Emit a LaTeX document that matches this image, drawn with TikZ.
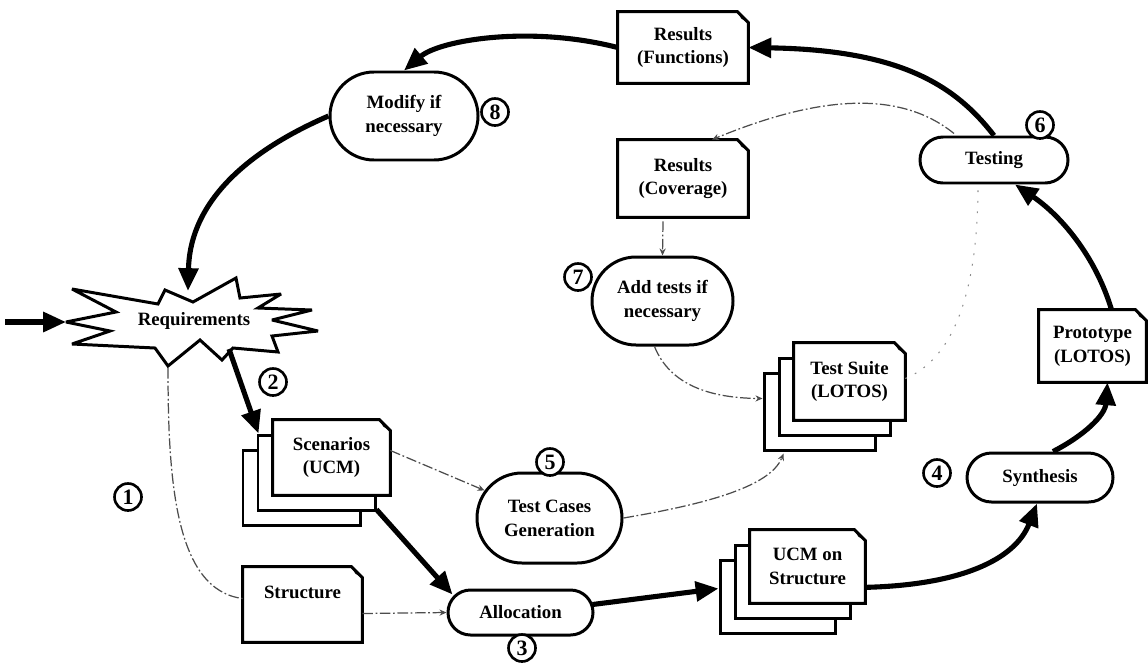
\documentclass[tikz,border=0pt]{standalone}
\usepackage{fontspec}
\setmainfont{Liberation Serif}
\usetikzlibrary{arrows.meta,shapes.misc,calc}

% one drawing unit = 0.02cm
\newcommand\pu[1]{#1*0.02cm}

\tikzset{
  every node/.style={font=\fontsize{10.7}{13.5}\selectfont\bfseries, align=center, inner sep=0pt},
  stage/.style={rounded rectangle, draw, line width=1.7pt, fill=white},
  docbody/.style={rectangle, fill=white},
  layer/.style={rectangle, draw, line width=1.7pt, fill=white},
  docline/.style={line width=1.7pt, line join=miter},
  num/.style={circle, draw, line width=1.5pt, minimum size=\pu{27}, fill=white,
              font=\fontsize{12.5}{13}\selectfont\bfseries},
  flow/.style={line width=2.9pt, -{Triangle[length=13pt,width=11pt]}},
  aux/.style={line width=0.7pt, draw=black!70, dash pattern=on 6pt off 1.5pt on 1pt off 1.5pt,
              -{Stealth[length=4pt,width=3.5pt]}},
  faint/.style={line width=0.6pt, draw=black!45, dash pattern=on 1pt off 5pt},
}

% outline of a document sheet with a folded top-right corner
\newcommand\docfront[1]{%
  \draw[docline] (#1.south west) -- (#1.north west) -- ($(#1.north east)+(-11,0)$)
    -- ($(#1.north east)+(0,11)$) -- (#1.south east) -- cycle;
  \fill ($(#1.north east)+(-11,0)$) -- ($(#1.north east)+(0,11)$)
    -- ($(#1.north east)+(-7,7)$) -- cycle;}

\begin{document}
\begin{tikzpicture}[x=0.02cm, y=-0.02cm]
\useasboundingbox (0,0) rectangle (1148,663);

% ---- requirements burst ----
\draw[line width=1.7pt, fill=white, line join=miter, miter limit=4]
  (72,289) -- (158,304) -- (165,290) -- (193,302) -- (236,278) -- (240,298)
  -- (281,294) -- (258,308) -- (312,310) -- (272,320) -- (318,331) -- (272,336)
  -- (278,352) -- (233,348) -- (222,360) -- (200,340) -- (168,366) -- (155,348)
  -- (72,344) -- (110,331) -- (66,322) -- (116,312) -- cycle;
\node (req) at (194,321) {Requirements};
\coordinate (req-top) at (188,291);
\coordinate (req-bot) at (229,349);
\coordinate (req-low) at (168,368);
\coordinate (req-in) at (66,322);
\coordinate (inp) at (5,322);

% ---- activities ----
\node[stage, minimum width=\pu{148}, minimum height=\pu{88}] (mod) at (404,116) {Modify if\\necessary};
\node[stage, minimum width=\pu{148}, minimum height=\pu{46}] (test) at (994,160) {Testing};
\node[stage, minimum width=\pu{146}, minimum height=\pu{49}] (syn) at (1040,477.5) {Synthesis};
\node[stage, minimum width=\pu{145}, minimum height=\pu{45}] (alloc) at (520.5,612.5) {Allocation};
\node[stage, minimum width=\pu{141}, minimum height=\pu{88}] (add) at (662.5,301) {Add tests if\\necessary};
\node[stage, minimum width=\pu{145}, minimum height=\pu{90}] (tcg) at (549.5,518) {Test Cases\\Generation};

% ---- documents ----
\node[docbody, minimum width=\pu{130}, minimum height=\pu{71}] (resf) at (683,47.5) {Results\\(Functions)};
\docfront{resf}
\node[docbody, minimum width=\pu{130}, minimum height=\pu{77}] (resc) at (683,178.5) {Results\\(Coverage)};
\docfront{resc}
\node[docbody, minimum width=\pu{107}, minimum height=\pu{72}] (proto) at (1092.5,346) {Prototype\\(LOTOS)};
\docfront{proto}
\node[docbody, minimum width=\pu{119}, minimum height=\pu{75}] (str) at (302.5,604.5) {Structure\\\mbox{}};
\docfront{str}

% scenario stack
\node[layer, minimum width=\pu{117}, minimum height=\pu{75}] (scen3) at (301.5,487.5) {};
\node[layer, minimum width=\pu{117}, minimum height=\pu{75}] (scen2) at (316.5,472.5) {};
\node[docbody, minimum width=\pu{117}, minimum height=\pu{75}] (scen) at (331.5,457.5) {Scenarios\\(UCM)};
\docfront{scen}

% UCM on structure stack
\node[layer, minimum width=\pu{115}, minimum height=\pu{73}] (ucm3) at (777.5,596.5) {};
\node[layer, minimum width=\pu{115}, minimum height=\pu{73}] (ucm2) at (792.5,581.5) {};
\node[docbody, minimum width=\pu{115}, minimum height=\pu{73}] (ucm) at (807.5,566.5) {UCM on\\Structure};
\docfront{ucm}

% test suite stack
\node[layer, minimum width=\pu{111}, minimum height=\pu{77}] (ts3) at (819.5,411.5) {};
\node[layer, minimum width=\pu{111}, minimum height=\pu{77}] (ts2) at (834.5,396.5) {};
\node[docbody, minimum width=\pu{111}, minimum height=\pu{77}] (ts) at (849.5,381.5) {Test Suite\\(LOTOS)};
\docfront{ts}

% ---- step numbers ----
\node[num] (n1) at (128,497) {1};
\node[num] (n2) at (273,382) {2};
\node[num] (n3) at (522,648) {3};
\node[num] (n4) at (937,473) {4};
\node[num] (n5) at (550,462) {5};
\node[num] (n6) at (1040,125) {6};
\node[num] (n7) at (578,277) {7};
\node[num] (n8) at (495,112) {8};

% ---- main cycle ----
\draw[flow] (inp) -- (req-in);
\draw[flow] (req-bot) -- ($(scen2.north west)+(2,0)$);
\draw[flow] ($(scen2.south east)+(0,-2)$) -- ($(alloc.center)+(-68,-18)$);
\draw[flow] ($(alloc.east)+(-2,-8)$) -- ($(ucm3.west)+(0,-8)$);
\draw[flow] ($(ucm.south east)+(0,-16)$) .. controls (960,585) and (1015,560) .. ($(syn.south)+(-3,0)$);
\draw[flow] ($(syn.north)+(13,0)$) .. controls (1085,435) and (1105,415) .. ($(proto.south)+(15,0)$);
\draw[flow] ($(proto.north)+(19,0)$) .. controls (1095,255) and (1060,215) .. ($(test.south)+(21,0)$);
\draw[flow] (test.north) .. controls (955,85) and (900,50) .. (resf.east);
\draw[flow] (resf.west) .. controls (530,25) and (440,40) .. (mod.north);
\draw[flow] (mod.west) .. controls (250,150) and (190,200) .. (req-top);

% ---- secondary flows ----
\draw[aux, -] (req-low) .. controls (168,480) and (175,590) .. ($(str.west)+(0,-6)$);
\draw[aux] ($(str.east)+(0,9)$) -- (alloc.west);
\draw[aux] ($(scen.east)+(0,-7)$) -- (tcg);
\draw[aux] (tcg.east) .. controls (700,505) and (770,488) .. ($(ts3.south west)+(21,2)$);
\draw[aux] ($(add.south)+(-8,0)$) .. controls (670,385) and (710,398) .. ($(ts3.west)+(0,-13)$);
\draw[aux] ($(test.north)+(-40,-2)$) .. controls (900,90) and (820,95) .. ($(resc.north)+(29,0)$);
\draw[aux] ($(resc.south)+(-20,4)$) -- (add.north);
\draw[faint] ($(ts.east)+(0,-3)$) .. controls (950,360) and (978,300) .. ($(test.south)+(-16,0)$);

\end{tikzpicture}
\end{document}
